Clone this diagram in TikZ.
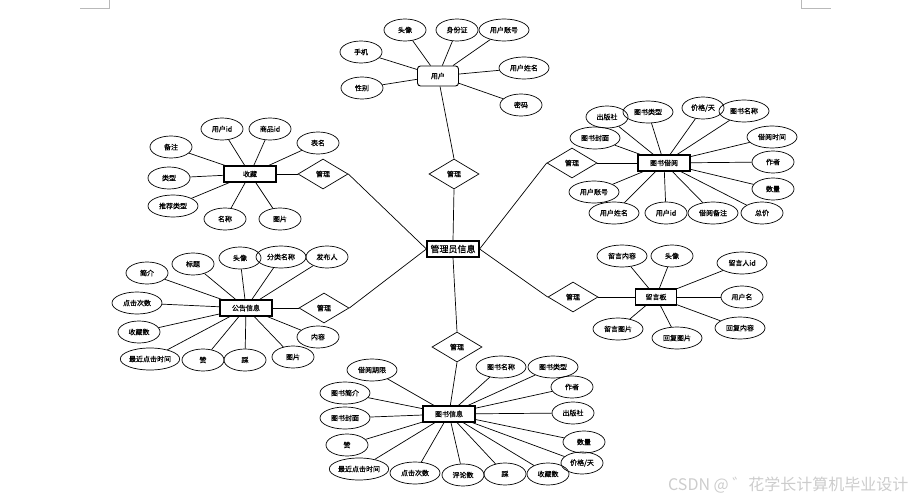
\documentclass[tikz,border=0pt]{standalone}
\usepackage{fontspec}
\newfontfamily\cjk[FakeBold=0.5]{Noto Sans CJK SC}
\newfontfamily\wmfont{Noto Sans CJK SC}
\usetikzlibrary{shapes.geometric}
\begin{document}
\begin{tikzpicture}[x=1pt,y=-1pt,
  attr/.style={ellipse,draw,line width=0.7pt,minimum width=42pt,minimum height=22pt,inner xsep=0pt,inner ysep=0pt,font=\cjk\fontsize{7}{8}\selectfont},
  wattr/.style={attr,minimum width=50pt},
  ent/.style={rectangle,draw,line width=1.2pt,minimum width=52pt,minimum height=16pt,inner sep=1pt,font=\cjk\fontsize{7}{8}\selectfont},
  rel/.style={diamond,draw,line width=0.7pt,minimum width=50pt,minimum height=30pt,inner sep=0pt,font=\cjk\fontsize{7}{8}\selectfont},
  link/.style={draw,line width=0.7pt},
  cornermark/.style={draw=gray!55,line width=0.6pt}]
\useasboundingbox (0,0) rectangle (921,500);

% corner marks
\coordinate (cm1) at (80,8); \coordinate (cm2) at (109,8); \coordinate (cm3) at (109,0);
\coordinate (cm4) at (801,0); \coordinate (cm5) at (801,8); \coordinate (cm6) at (831,8);
\draw[cornermark] (cm1) -- (cm2) -- (cm3);
\draw[cornermark] (cm4) -- (cm5) -- (cm6);

% center
\node[ent,font=\cjk\fontsize{9}{10}\selectfont] (admin) at (453,249) {管理员信息};

% user
\node[ent,rounded corners=3pt,minimum width=41pt,minimum height=20pt,line width=0.9pt] (user) at (438,76) {用户};
\node[attr] (u1) at (405,30) {头像};
\node[attr] (u2) at (457,30) {身份证};
\node[wattr] (u3) at (504,30) {用户账号};
\node[attr] (u4) at (361,52) {手机};
\node[wattr] (u5) at (524,68) {用户姓名};
\node[attr] (u6) at (362,88) {性别};
\node[attr] (u7) at (521,105) {密码};
\foreach \a in {u1,u2,u3,u4,u5,u6,u7} \draw[link] (user) -- (\a);
\node[rel] (r1) at (454,174) {管理};
\draw[link] (user) -- (r1.north);
\draw[link] (r1.south) -- (admin.north);

% collection
\node[ent] (col) at (250,174) {收藏};
\node[attr] (c1) at (222,129) {用户id};
\node[attr] (c2) at (270,129) {商品id};
\node[attr] (c3) at (318,143) {表名};
\node[attr] (c4) at (171,147) {备注};
\node[attr] (c5) at (169,178) {类型};
\node[wattr] (c6) at (173,206) {推荐类型};
\node[attr] (c7) at (225,219) {名称};
\node[attr] (c8) at (280,219) {图片};
\foreach \a in {c1,c2,c3,c4,c5,c6,c7,c8} \draw[link] (col) -- (\a);
\node[rel] (rc) at (323,174) {管理};
\draw[link] (col) -- (rc.west);
\draw[link] (rc.east) -- (admin.west);

% book borrowing
\node[ent] (bb) at (664,163) {图书借阅};
\node[attr] (b1) at (607,117) {出版社};
\node[wattr] (b2) at (648,112) {图书类型};
\node[attr] (b3) at (703,108) {价格/天};
\node[wattr] (b4) at (744,111) {图书名称};
\node[wattr] (b5) at (595,138) {图书封面};
\node[wattr] (b6) at (772,137) {借阅时间};
\node[attr] (b7) at (773,162) {作者};
\node[attr] (b8) at (773,189) {数量};
\node[attr] (b9) at (762,213) {总价};
\node[wattr] (b10) at (713,213) {借阅备注};
\node[attr] (b11) at (666,213) {用户id};
\node[wattr] (b12) at (614,213) {用户姓名};
\node[wattr] (b13) at (594,192) {用户账号};
\foreach \a in {b1,b2,b3,b4,b5,b6,b7,b8,b9,b10,b11,b12,b13} \draw[link] (bb) -- (\a);
\node[rel] (rb) at (572,163) {管理};
\draw[link] (bb) -- (rb.east);
\draw[link] (rb.west) -- (admin.east);

% announcement
\node[ent] (ann) at (246,308) {公告信息};
\node[attr] (a1) at (147,273) {简介};
\node[attr] (a2) at (193,264) {标题};
\node[attr] (a3) at (240,258) {头像};
\node[wattr] (a4) at (281,257) {分类名称};
\node[attr] (a5) at (327,257) {发布人};
\node[wattr] (a6) at (137,303) {点击次数};
\node[attr] (a7) at (139,332) {收藏数};
\node[attr] (a8) at (150,359) {最近点击时间};
\node[attr] (a9) at (203,360) {赞};
\node[attr] (a10) at (245,360) {踩};
\node[attr] (a11) at (293,357) {图片};
\node[attr] (a12) at (318,337) {内容};
\foreach \a in {a1,a2,a3,a4,a5,a6,a7,a8,a9,a10,a11,a12} \draw[link] (ann) -- (\a);
\node[rel] (ra) at (324,308) {管理};
\draw[link] (ann) -- (ra.west);
\draw[link] (ra.east) -- (admin.west);

% message board
\node[ent,minimum width=41pt] (msg) at (656,297) {留言板};
\node[wattr] (m1) at (622,256) {留言内容};
\node[attr] (m2) at (672,256) {头像};
\node[wattr] (m3) at (742,263) {留言人id};
\node[attr] (m4) at (742,297) {用户名};
\node[wattr] (m5) at (740,328) {回复内容};
\node[wattr] (m6) at (618,329) {留言图片};
\node[wattr] (m7) at (677,338) {回复图片};
\foreach \a in {m1,m2,m3,m4,m5,m6,m7} \draw[link] (msg) -- (\a);
\node[rel] (rm) at (573,297) {管理};
\draw[link] (msg) -- (rm.east);
\draw[link] (rm.west) -- (admin.east);

% book info
\node[ent] (bi) at (449,414) {图书信息};
\node[wattr] (i1) at (372,370) {借阅期限};
\node[wattr] (i2) at (345,393) {图书简介};
\node[wattr] (i3) at (345,418) {图书封面};
\node[attr] (i4) at (347,445) {赞};
\node[attr] (i5) at (359,469) {最近点击时间};
\node[wattr] (i6) at (415,473) {点击次数};
\node[attr] (i7) at (463,475) {评论数};
\node[attr] (i8) at (505,474) {踩};
\node[attr] (i9) at (548,474) {收藏数};
\node[wattr] (i10) at (501,367) {图书名称};
\node[wattr] (i11) at (553,367) {图书类型};
\node[attr] (i12) at (572,387) {作者};
\node[attr] (i13) at (573,413) {出版社};
\node[attr] (i14) at (584,442) {数量};
\node[attr] (i15) at (582,463) {价格/天};
\foreach \a in {i1,i2,i3,i4,i5,i6,i7,i8,i9,i10,i11,i12,i13,i14,i15} \draw[link] (bi) -- (\a);
\node[rel] (rbi) at (457,347) {管理};
\draw[link] (admin.south) -- (rbi.north);
\draw[link] (rbi.south) -- (bi);

% watermark
\node[anchor=base west,inner sep=0pt,text=gray!40,font=\wmfont\fontsize{16}{17}\selectfont] (wm) at (668,490) {CSDN @ ゛花学长计算机毕业设计};
\end{tikzpicture}
\end{document}
